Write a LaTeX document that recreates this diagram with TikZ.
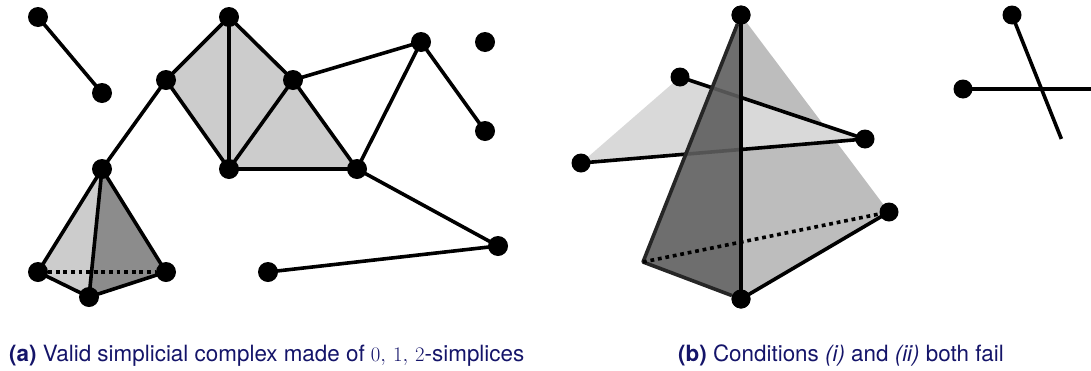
\documentclass[tikz,border=0pt]{standalone}
\usepackage{fontspec}
\setmainfont{TeX Gyre Heros}
\usetikzlibrary{backgrounds}
\definecolor{capnavy}{RGB}{20,20,105}
\tikzset{
  dot/.style={circle,fill=black,draw=none,inner sep=0pt,minimum size=20pt},
  sdot/.style={dot,minimum size=19pt},
  edge/.style={draw=black,line width=3.6pt,shorten <=-1pt,shorten >=-1pt},
  dotted edge/.style={draw=black,line width=3.6pt,dash pattern=on 3.8pt off 3.8pt},
  caption/.style={anchor=base west,inner sep=0pt,text=capnavy,font=\fontsize{22.4}{26}\selectfont},
}
\begin{document}
\begin{tikzpicture}[x=1pt,y=-1pt]
\useasboundingbox (0,0) rectangle (1091,370);
% left complex
\path
 (38,17) node[dot] (a1) {} (102,93) node[dot] (a2) {}
 (166,80) node[dot] (c) {} (229,17) node[dot] (d) {} (293,80) node[dot] (e) {}
 (229,169) node[dot] (f) {} (357,169) node[dot] (g) {} (421,42) node[dot] (h) {}
 (485,42) node[dot] (i) {} (485,131) node[dot] (j) {} (102,169) node[dot] (k) {}
 (38,272) node[dot] (l) {} (166,272) node[dot] (m) {} (89,297) node[dot] (n) {}
 (268,272) node[dot] (o) {} (498,246) node[dot] (p) {};
\begin{scope}[on background layer]
\fill[black!20] (c.center) -- (d.center) -- (e.center) -- (g.center) -- (f.center) -- cycle;
\fill[black!20] (k.center) -- (l.center) -- (n.center) -- cycle;
\fill[black!45] (k.center) -- (m.center) -- (n.center) -- cycle;
\end{scope}
\draw[edge] (a1) -- (a2);
\draw[edge] (c) -- (d); \draw[edge] (d) -- (e); \draw[edge] (d) -- (f);
\draw[edge] (c) -- (f); \draw[edge] (e) -- (f); \draw[edge] (e) -- (g);
\draw[edge] (f) -- (g); \draw[edge] (c) -- (k); \draw[edge] (e) -- (h);
\draw[edge] (h) -- (g); \draw[edge] (h) -- (j); \draw[edge] (g) -- (p);
\draw[edge] (o) -- (p); \draw[edge] (k) -- (l); \draw[edge] (k) -- (m);
\draw[edge] (k) -- (n); \draw[edge] (l) -- (n); \draw[edge] (m) -- (n);
\draw[dotted edge] (l) -- (m);
% right: failing complex
\path
 (741,15) node[sdot] (top) {} (741,299) node[sdot] (bot) {}
 (889,212) node[sdot] (t) {}
 (680,77) node[sdot] (q) {} (865,139) node[sdot] (r) {}
 (581,163) node[sdot] (s) {}
 (643,262) coordinate (u)
 (1012,15) node[sdot] (x1) {} (963,89) node[sdot] (y1) {}
 (1061,138) coordinate (x2) (1091,89) coordinate (y2);
\begin{scope}[on background layer]
\fill[black!26] (top.center) -- (t.center) -- (bot.center) -- cycle;
\fill[black!15] (q.center) -- (r.center) -- (s.center) -- cycle;
\end{scope}
\draw[edge] (q) -- (r); \draw[edge] (r) -- (s);
\draw[edge] (bot) -- (t);
\fill[black!63,opacity=.9] (top.center) -- (u) -- (bot.center) -- cycle;
\draw[edge,draw=black!85,line join=bevel,shorten <=0pt,shorten >=0pt] (top) -- (u) -- (bot);
\draw[edge] (top) -- (bot);
\draw[dotted edge] (u) -- (t);
\draw[edge] (x1) -- (x2); \draw[edge] (y1) -- (y2);
\node[sdot] (top2) at (top) {}; \node[sdot] (bot2) at (bot) {};
% captions
\node[caption] (capa) at (9,361.7) {\textbf{(a)} Valid simplicial complex made of $0,\,1,\,2$-simplices};
\node[caption] (capb) at (678,361.7) {\textbf{(b)} Conditions \textit{(i)} and \textit{(ii)} both fail};
\end{tikzpicture}
\end{document}
